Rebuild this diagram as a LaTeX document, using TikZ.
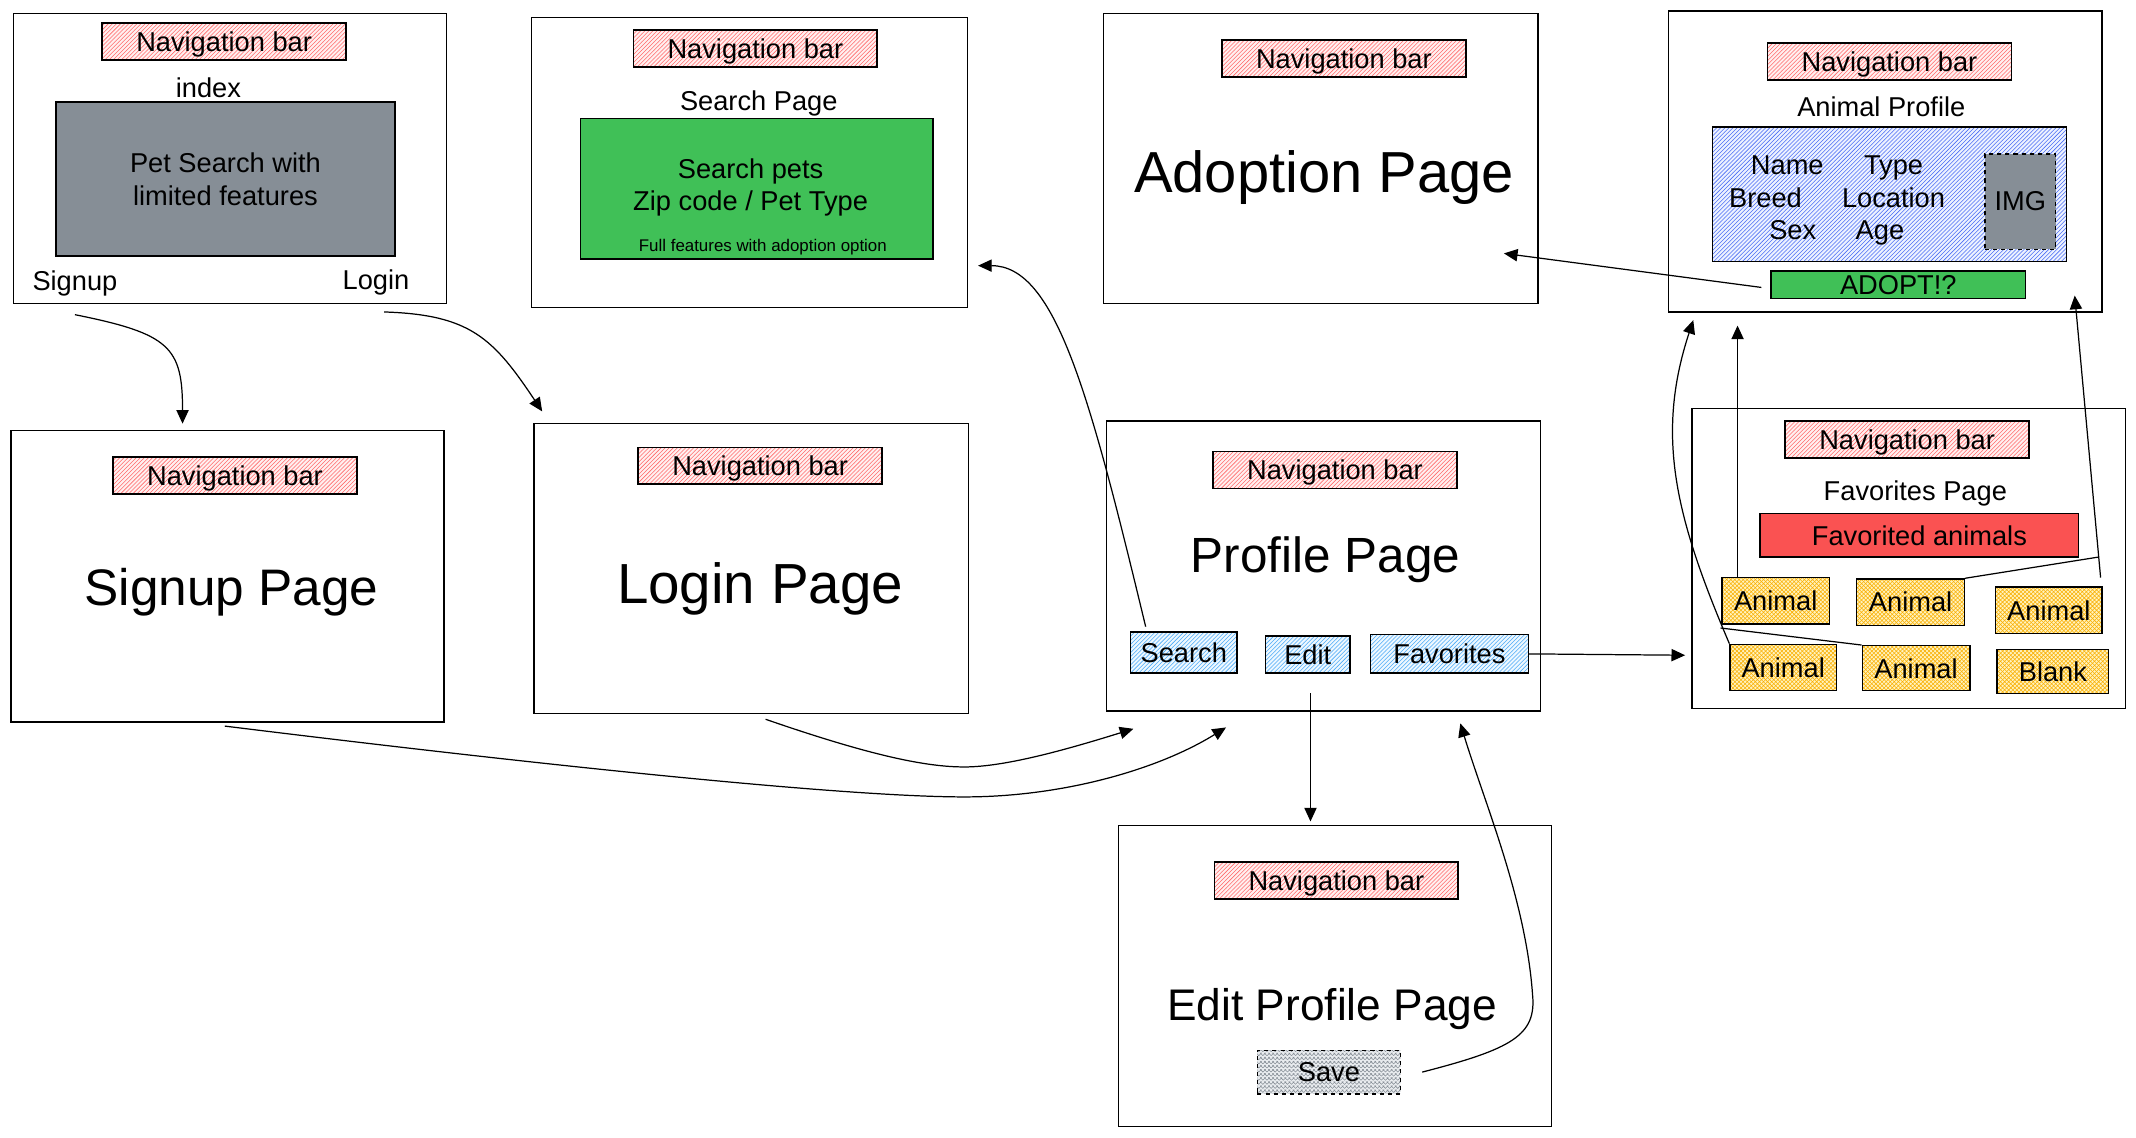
\documentclass[tikz,border=0pt]{standalone}
\usepackage{fontspec}
\setmainfont{Liberation Sans}
\usetikzlibrary{arrows.meta}
\usetikzlibrary{patterns}
\tikzset{>={Triangle[length=10pt,width=9pt]}}
\definecolor{navpink}{HTML}{FFF0F0}
\definecolor{navred}{HTML}{FF6B6B}
\definecolor{petgray}{HTML}{868E96}
\definecolor{btngreen}{HTML}{40C057}
\definecolor{infobg}{HTML}{EDF2FF}
\definecolor{infoblue}{HTML}{4C6EF5}
\definecolor{btnbg}{HTML}{EEF8FF}
\definecolor{btnblue}{HTML}{4DABF7}
\definecolor{petbg}{HTML}{FFF3BF}
\definecolor{petline}{HTML}{FAB005}
\definecolor{favred}{HTML}{FA5252}
\definecolor{savebg}{HTML}{E9ECEF}
\definecolor{saveline}{HTML}{868E96}

\begin{document}
\begin{tikzpicture}[x=1pt, y=-1pt, font=\fontsize{20}{24}\selectfont,
    page/.style={draw, line width=.9pt, inner sep=0pt},
    sz/.style 2 args={minimum width=#1pt, minimum height=#2pt},
    navbar/.style={draw, line width=1.2pt, preaction={fill=navpink}, pattern=north east lines,
      pattern color=navred, minimum width=179pt, minimum height=27pt, inner sep=0pt, text depth=0pt},
    lbl/.style={inner sep=0pt, text depth=0pt},
    btn/.style={draw, line width=1pt, preaction={fill=btnbg}, pattern=north east lines,
      pattern color=btnblue, inner sep=0pt, text depth=0pt},
    pet/.style={draw, line width=1pt, preaction={fill=petbg}, pattern=crosshatch,
      pattern color=petline, inner sep=0pt, text depth=0pt},
    link/.style={->, line width=.9pt}]
  \useasboundingbox (0,0) rectangle (1568,835);

  % index
  \node[page, sz={318}{213}] (idxpg) at (169,116.5) {};
  \node[navbar] (idxnav) at (164.5,30.5) {Navigation bar};
  \node[lbl] (idxname) at (153,64) {index};
  \node[draw, line width=1.5pt, fill=petgray, sz={249}{113}, align=center] (idxsearch) at (165.5,131.5) {Pet Search with\\limited features};
  \node[lbl] (idxsignup) at (55,206) {Signup};
  \node[lbl] (idxlogin) at (276,205) {Login};

  % search page
  \node[page, sz={320}{213}] (srchpg) at (550,119.5) {};
  \node[navbar] (srchnav) at (554.5,35.5) {Navigation bar};
  \node[lbl] (srchname) at (557,74) {Search Page};
  \node[draw, line width=1pt, fill=btngreen, sz={259}{103}] (srchbox) at (555.5,138.5) {};
  \node[lbl, align=center] (srchtxt) at (551,135.5) {Search pets\\Zip code / Pet Type};
  \node[lbl, font=\fontsize{12.4}{14}\selectfont] (srchfull) at (560,180) {Full features with adoption option};

  % adoption page
  \node[page, sz={319}{213}] (adoptpg) at (969.5,116.5) {};
  \node[navbar] (adoptnav) at (986.5,43) {Navigation bar};
  \node[lbl, font=\fontsize{42.5}{50}\selectfont] (adoptname) at (972,126) {Adoption Page};

  % animal profile
  \node[page, sz={318}{221}] (animpg) at (1384,118.5) {};
  \node[navbar] (animnav) at (1387,45) {Navigation bar};
  \node[lbl] (animname) at (1381,78) {Animal Profile};
  \node[draw, line width=1.2pt, preaction={fill=infobg}, pattern=north east lines, pattern color=infoblue, sz={260}{99}] (animinfo) at (1387,142.5) {};
  \node[lbl] (animfname) at (1312,121) {Name};
  \node[lbl] (animtype) at (1390,121) {Type};
  \node[lbl] (animbreed) at (1296,145) {Breed};
  \node[lbl] (animloc) at (1390,145) {Location};
  \node[lbl] (animsex) at (1316,169) {Sex};
  \node[lbl] (animage) at (1380,169) {Age};
  \node[draw, dashed, line width=1pt, fill=petgray, sz={52}{70}, inner sep=0pt] (animimg) at (1483,148) {IMG};
  \node[draw, line width=1pt, fill=btngreen, sz={187}{20}, inner sep=0pt] (adoptbtn) at (1393.5,209) {ADOPT!?};

  % signup page
  \node[page, sz={318}{214}] (signpg) at (167,423) {};
  \node[navbar] (signnav) at (172.5,349) {Navigation bar};
  \node[lbl, font=\fontsize{37.7}{44}\selectfont] (signname) at (170,431) {Signup Page};

  % login page
  \node[page, sz={319}{213}] (logpg) at (551.5,417.5) {};
  \node[navbar] (lognav) at (558,342) {Navigation bar};
  \node[lbl, font=\fontsize{41.5}{48}\selectfont] (logname) at (558,428) {Login Page};

  % profile page
  \node[page, sz={319}{213}] (profpg) at (971.5,415.5) {};
  \node[navbar] (profnav) at (980,345) {Navigation bar};
  \node[lbl, font=\fontsize{36.3}{42}\selectfont] (profname) at (973,407) {Profile Page};
  \node[btn, sz={78}{30}] (srchbtn) at (869,479) {Search};
  \node[btn, sz={62}{27}] (editbtn) at (960,480.5) {Edit};
  \node[btn, sz={116}{28}] (favbtn) at (1064,480) {Favorites};

  % favorites page
  \node[page, sz={318}{220}] (favpg) at (1401,410) {};
  \node[navbar] (favnav) at (1400,322.5) {Navigation bar};
  \node[lbl] (favname) at (1406,360) {Favorites Page};
  \node[draw, line width=1pt, fill=favred, sz={234}{32}, inner sep=0pt] (favlist) at (1409,393) {Favorited animals};
  \node[pet, sz={79}{34}] (pa) at (1303.5,441) {Animal};
  \node[pet, sz={79}{34}] (pb) at (1402.5,442) {Animal};
  \node[pet, sz={78}{34}] (pc) at (1504,448) {Animal};
  \node[pet, sz={78}{34}] (pd) at (1309,490) {Animal};
  \node[pet, sz={79}{33}] (pe) at (1406.5,490.5) {Animal};
  \node[pet, sz={82}{32}] (pf) at (1507,493) {Blank};

  % edit profile page
  \node[page, sz={318}{221}] (editpg) at (980,716.5) {};
  \node[navbar] (editnav) at (981,646.5) {Navigation bar};
  \node[lbl, font=\fontsize{32.5}{38}\selectfont] (editname) at (978,737) {Edit Profile Page};
  \node[draw, dashed, line width=1pt, preaction={fill=savebg}, pattern=crosshatch, pattern color=saveline, sz={105}{32}, inner sep=0pt] (savebtn) at (975.5,787) {Save};

  % link ends
  \coordinate (signupfrom) at (55,231);
  \coordinate (signupto) at (134,311);
  \coordinate (loginfrom) at (282,229);
  \coordinate (loginto) at (398,302);
  \coordinate (signout) at (165,533);
  \coordinate (signlow) at (708,585);
  \coordinate (signtip) at (900,534);
  \coordinate (logout) at (562,528);
  \coordinate (loglow) at (708,563);
  \coordinate (logtip) at (832,535);
  \coordinate (srchfrom) at (841,460);
  \coordinate (srchto) at (718,195);
  \coordinate (editfrom) at (962,509);
  \coordinate (editto) at (962,603);
  \coordinate (savefrom) at (1044,787);
  \coordinate (savebend) at (1125,730);
  \coordinate (saveto) at (1072,531);
  \coordinate (favto) at (1237,481);
  \coordinate (adoptfrom) at (1293,211);
  \coordinate (adoptto) at (1104,186);
  \coordinate (pato) at (1275.5,239);
  \coordinate (pdto) at (1243,235);
  \coordinate (pejoin) at (1263,461);
  \coordinate (pbjoin) at (1540,409);
  \coordinate (pcfrom) at (1542,424);
  \coordinate (pcto) at (1523,217);

  % links
  \draw[link] (signupfrom) .. controls (125,245) and (134,255) .. (signupto);
  \draw[link] (loginfrom) .. controls (345,231) and (362,248) .. (loginto);
  \draw[link] (signout) .. controls (400,562) and (620,585) .. (signlow) .. controls (780,585) and (850,565) .. (signtip);
  \draw[link] (logout) .. controls (640,555) and (680,563) .. (loglow) .. controls (740,563) and (790,548) .. (logtip);
  \draw[link] (srchfrom) .. controls (800,290) and (775,195) .. (srchto);
  \draw[link] (editfrom) -- (editto);
  \draw[link] (savefrom) .. controls (1110,770) and (1128,760) .. (savebend) .. controls (1120,660) and (1090,590) .. (saveto);
  \draw[link] (favbtn.east) -- (favto);
  \draw[link] (adoptfrom) -- (adoptto);
  \draw[link] ([xshift=-28pt]pa.north) -- (pato);
  \draw[link] (pd.north west) .. controls (1230,380) and (1215,320) .. (pdto);
  \draw[line width=.9pt] (pe.north west) -- (pejoin);
  \draw[line width=.9pt] (pb.north east) -- (pbjoin);
  \draw[link] (pcfrom) -- (pcto);
\end{tikzpicture}
\end{document}
